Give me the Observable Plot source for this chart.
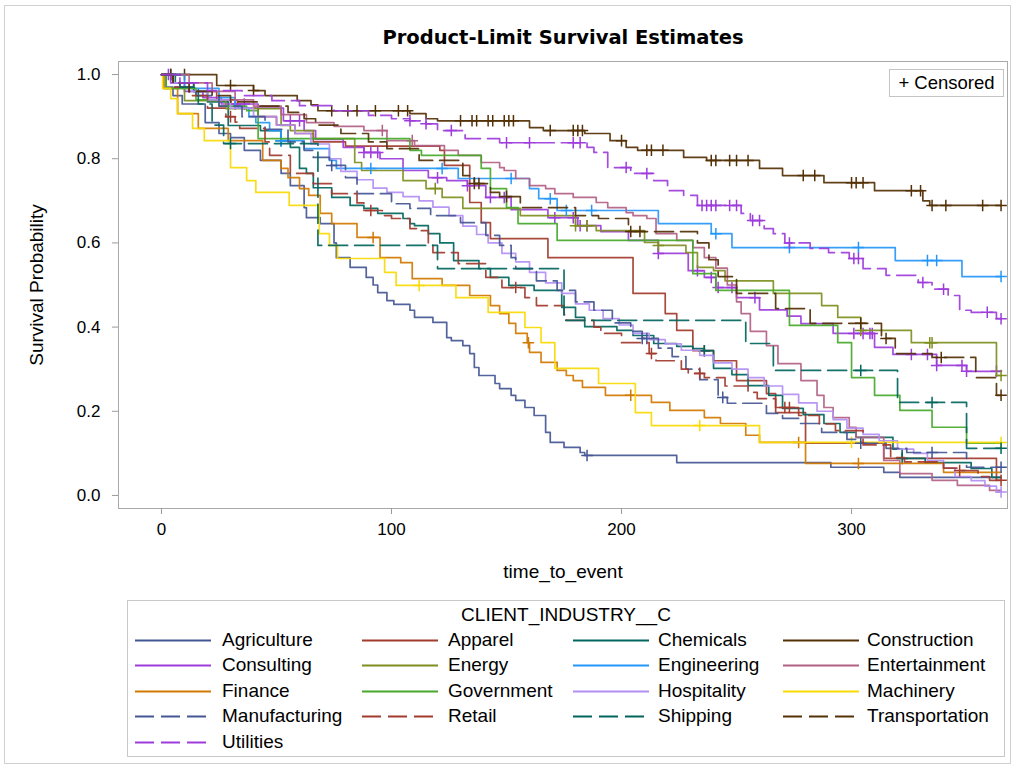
<!DOCTYPE html>
<html>
<head>
<meta charset="utf-8">
<script src="https://cdn.jsdelivr.net/npm/d3@7"></script>
<script src="https://cdn.jsdelivr.net/npm/@observablehq/plot@0.6"></script>
<style>
  body { margin: 0; background: #fff; }
  #wrap { position: relative; width: 1016px; height: 770px; font-family: "Liberation Sans", Arial, sans-serif; color: #000; }
  #outer { position: absolute; left: 4px; top: 5px; width: 1007px; height: 759px; border: 1px solid #d0d0d0; box-sizing: border-box; }
  #chart { position: absolute; left: 0; top: 0; }
  #title { position: absolute; left: 110px; width: 906px; top: 25px; line-height: 26px; text-align: center;
           font-family: "DejaVu Sans", sans-serif; font-weight: bold; font-size: 19.5px; }
  .axlabel { position: absolute; font-size: 19px; white-space: nowrap; line-height: 22px; }
  #xlabel { left: 363px; width: 400px; top: 561px; text-align: center; }
  #ylabel { left: 37px; top: 285px; transform: translate(-50%, -50%) rotate(-90deg); }
  #censored { position: absolute; left: 889px; top: 69px; width: 115px; height: 28px; border: 1px solid #c4c4c4;
              box-sizing: border-box; font-size: 18.5px; line-height: 26px; text-align: center; background: #fff; }
  #legend { position: absolute; left: 127px; top: 600px; width: 878px; height: 157px; border: 1px solid #c8c8c8; box-sizing: border-box; }
  #legtitle { position: absolute; left: 0; width: 876px; top: 3px; text-align: center; font-size: 19px; line-height: 22px; }
  .item { position: absolute; height: 22px; font-size: 19px; line-height: 22px; white-space: nowrap; }
  .item svg { position: absolute; top: 0; }
  .item span { position: absolute; top: 0; }
</style>
</head>
<body>
<div id="wrap">
  <div id="outer"></div>
  <div id="chart"></div>
  <div id="title">Product-Limit Survival Estimates</div>
  <div id="xlabel" class="axlabel">time_to_event</div>
  <div id="ylabel" class="axlabel">Survival Probability</div>
  <div id="censored">+ Censored</div>
  <div id="legend"><div id="legtitle">CLIENT_INDUSTRY__C</div></div>
</div>
<script>
// Kaplan-Meier product-limit estimates by client industry.
// Each step array holds [time, survival] pairs: survival holds from that time until the next step.
const industries = ["Agriculture", "Apparel", "Chemicals", "Construction", "Consulting", "Energy",
  "Engineering", "Entertainment", "Finance", "Government", "Hospitality", "Machinery",
  "Manufacturing", "Retail", "Shipping", "Transportation", "Utilities"];
const palette = ["#445694", "#A23A2E", "#01665E", "#543005", "#9D3CDB", "#7F8E1F",
  "#2597FA", "#B26084", "#D17800", "#47A82A", "#B38EF3", "#F9DA04",
  "#445694", "#A23A2E", "#01665E", "#543005", "#9D3CDB"];
const dashed = [false, false, false, false, false, false, false, false, false, false, false, false,
  true, true, true, true, true];
const followUpEnd = 365;
const xTicks = [0, 100, 200, 300];
const yTicks = [0, 0.2, 0.4, 0.6, 0.8, 1.0];

const agricultureSteps = [[0,1],[2,0.97],[5,0.95],[9,0.93],[19,0.886],[25,0.86],[30,0.85],[36,0.82],[43,0.796],[52,0.765],[56,0.736],[62,0.684],[63,0.66],[69,0.646],[75,0.6],[76,0.565],[82,0.542],[89,0.518],[92,0.5],[94,0.482],[98,0.463],[101,0.454],[108,0.44],[110,0.423],[118,0.411],[124,0.375],[126,0.368],[131,0.356],[134,0.337],[136,0.304],[138,0.285],[145,0.266],[147,0.254],[152,0.238],[154,0.226],[158,0.209],[162,0.19],[167,0.15],[169,0.126],[175,0.114],[182,0.102],[184,0.095],[224,0.078],[291,0.067],[314,0.055],[321,0.043]];
const agricultureCensored = [185];

const apparelSteps = [[0,1],[5,0.98],[14,0.96],[24,0.94],[33,0.92],[42,0.9],[50,0.88],[58,0.86],[66,0.84],[80,0.83],[121,0.82],[123,0.784],[134,0.696],[139,0.648],[143,0.61],[168,0.565],[205,0.48],[219,0.432],[224,0.392],[231,0.344],[240,0.32],[250,0.273],[263,0.242],[267,0.197],[280,0.124],[314,0.088],[363,0.036]];
const apparelCensored = [236];

const chemicalsSteps = [[0,1],[6,0.98],[14,0.96],[20,0.935],[29,0.879],[43,0.867],[52,0.843],[56,0.827],[60,0.777],[63,0.765],[66,0.731],[74,0.708],[82,0.689],[88,0.682],[94,0.67],[105,0.658],[108,0.646],[110,0.641],[116,0.622],[121,0.6],[127,0.558],[138,0.539],[143,0.518],[151,0.499],[162,0.487],[174,0.447],[180,0.423],[184,0.401],[198,0.392],[205,0.38],[214,0.361],[224,0.354],[231,0.349],[236,0.344],[240,0.302],[248,0.287],[255,0.261],[264,0.238],[270,0.207],[279,0.192],[288,0.171],[295,0.15],[302,0.138],[318,0.11],[322,0.088],[332,0.078],[352,0.064],[361,0.043]];
const chemicalsCensored = [4, 52, 236, 322];

const constructionSteps = [[0,1],[24,0.974],[40,0.962],[45,0.95],[59,0.938],[65,0.928],[68,0.914],[108,0.907],[115,0.895],[120,0.89],[160,0.874],[166,0.867],[184,0.86],[195,0.843],[202,0.827],[207,0.82],[227,0.803],[237,0.796],[260,0.777],[270,0.76],[288,0.743],[310,0.724],[331,0.7],[334,0.689]];
const constructionCensored = [4,10,30,40,74,81,85,93,103,107,130,135,137,142,144,149,151,153,169,179,181,183,200,211,213,218,239,241,247,250,255,279,284,300,302,305,326,330,335,341,357,365];

const consultingSteps = [[0,1],[4,0.98],[10,0.96],[18,0.945],[26,0.93],[42,0.92],[53,0.89],[62,0.867],[67,0.846],[79,0.827],[88,0.815],[95,0.8],[105,0.772],[116,0.755],[124,0.748],[133,0.736],[141,0.708],[152,0.679],[168,0.66],[181,0.641],[191,0.627],[203,0.606],[216,0.575],[229,0.534],[236,0.518],[241,0.494],[250,0.47],[260,0.441],[272,0.426],[278,0.408],[292,0.385],[310,0.352],[318,0.335],[337,0.309],[350,0.295]];
const consultingCensored = [3,8,32,36,56,60,88,91,94,120,133,143,149,171,179,182,185,216,233,239,242,248,258,301,305,308,309,326,333,337,348,350,363];

const energySteps = [[0,1],[1,0.967],[10,0.938],[28,0.919],[52,0.879],[56,0.867],[66,0.848],[84,0.791],[87,0.772],[105,0.748],[115,0.729],[122,0.708],[131,0.682],[156,0.665],[180,0.641],[189,0.629],[210,0.601],[216,0.594],[228,0.577],[233,0.542],[240,0.534],[245,0.51],[266,0.48],[287,0.451],[294,0.423],[304,0.392],[326,0.363],[363,0.285]];
const energyCensored = [119, 180, 185, 216, 304, 334, 335, 365];

const engineeringSteps = [[0,1],[10,0.967],[25,0.945],[32,0.92],[38,0.9],[41,0.886],[47,0.867],[52,0.843],[62,0.824],[73,0.796],[76,0.777],[129,0.753],[160,0.729],[164,0.705],[172,0.677],[216,0.646],[239,0.622],[248,0.589],[319,0.558],[348,0.52]];
const engineeringCensored = [52, 91, 122, 152, 169, 176, 187, 241, 273, 303, 333, 337, 365];

const entertainmentSteps = [[0,1],[12,0.98],[22,0.96],[32,0.94],[40,0.925],[52,0.905],[63,0.886],[75,0.877],[88,0.867],[98,0.843],[110,0.831],[123,0.82],[129,0.808],[139,0.791],[147,0.779],[149,0.772],[154,0.753],[160,0.736],[167,0.729],[171,0.717],[179,0.708],[189,0.696],[194,0.684],[202,0.672],[205,0.665],[211,0.658],[215,0.622],[224,0.606],[231,0.589],[236,0.565],[241,0.54],[246,0.5],[250,0.46],[252,0.432],[256,0.39],[263,0.356],[268,0.313],[278,0.273],[285,0.238],[288,0.209],[292,0.185],[299,0.162],[302,0.138],[314,0.083],[321,0.052],[335,0.036],[346,0.024],[360,0.012]];
const entertainmentCensored = [96, 109];

const financeSteps = [[0,1],[1,0.967],[7,0.907],[16,0.872],[29,0.843],[44,0.796],[52,0.777],[55,0.755],[60,0.729],[64,0.713],[69,0.67],[74,0.646],[85,0.613],[95,0.565],[104,0.553],[109,0.515],[122,0.499],[134,0.475],[143,0.451],[147,0.432],[151,0.409],[154,0.385],[159,0.363],[160,0.34],[165,0.316],[172,0.297],[176,0.285],[179,0.273],[183,0.257],[193,0.238],[213,0.221],[221,0.202],[236,0.185],[243,0.171],[254,0.143],[260,0.126],[280,0.076],[340,0.055]];
const financeCensored = [92, 159.5, 204, 277, 303];

const governmentSteps = [[0,1],[2,0.967],[15,0.94],[25,0.925],[37,0.914],[42,0.848],[108,0.82],[113,0.808],[139,0.777],[143,0.729],[150,0.684],[155,0.646],[172,0.606],[231,0.527],[241,0.487],[273,0.404],[294,0.363],[300,0.28],[310,0.238],[321,0.202],[335,0.162],[350,0.124]];
const governmentCensored = [];

const hospitalitySteps = [[0,1],[5,0.98],[12,0.96],[20,0.94],[30,0.92],[40,0.9],[50,0.88],[58,0.86],[65,0.835],[73,0.8],[78,0.77],[85,0.75],[92,0.73],[98,0.72],[105,0.71],[112,0.7],[118,0.685],[125,0.665],[131,0.64],[137,0.62],[142,0.6],[148,0.575],[154,0.555],[160,0.53],[167,0.505],[174,0.48],[180,0.455],[186,0.44],[192,0.42],[199,0.405],[205,0.385],[212,0.37],[219,0.36],[226,0.345],[234,0.333],[240,0.315],[248,0.3],[255,0.28],[262,0.26],[270,0.24],[277,0.22],[285,0.2],[292,0.18],[298,0.16],[305,0.145],[312,0.13],[320,0.11],[327,0.1],[333,0.083],[340,0.065],[345,0.045],[352,0.035],[358,0.022],[363,0.008]];
const hospitalityCensored = [365];

const machinerySteps = [[0,1],[0.5,0.967],[4,0.943],[7,0.907],[13.5,0.872],[18.6,0.843],[30,0.779],[37,0.748],[41,0.72],[55.5,0.689],[68.6,0.622],[73,0.594],[76.5,0.563],[97,0.53],[102,0.499],[128,0.47],[142,0.435],[158,0.399],[165,0.363],[171,0.302],[190,0.266],[206,0.197],[213,0.166],[260,0.126]];
const machineryCensored = [112, 234, 300, 365];

const manufacturingSteps = [[0,1],[5,0.97],[15,0.95],[25,0.925],[35,0.9],[45,0.87],[55,0.84],[62,0.82],[66,0.803],[73,0.784],[80,0.755],[85,0.717],[100,0.693],[108,0.682],[117,0.665],[130,0.648],[141,0.618],[147,0.594],[152,0.565],[154,0.539],[163,0.51],[172,0.487],[180,0.46],[188,0.44],[196,0.41],[204,0.39],[209,0.373],[216,0.35],[222,0.33],[228,0.3],[234,0.275],[242,0.233],[246,0.219],[263,0.195],[270,0.183],[277,0.171],[287,0.15],[298,0.133],[304,0.124],[315,0.112],[324,0.102],[350,0.067]];
const manufacturingCensored = [74, 209, 211, 244, 304, 335, 365];

const retailSteps = [[0,1],[5,0.97],[12,0.95],[20,0.92],[28,0.9],[32,0.887],[34,0.872],[45,0.84],[47,0.808],[56,0.765],[66,0.741],[74,0.717],[85,0.695],[88,0.677],[96,0.665],[100,0.658],[108,0.634],[112,0.629],[116,0.6],[118,0.577],[129,0.551],[141,0.518],[148,0.494],[158,0.47],[163,0.451],[175,0.43],[176,0.416],[188,0.4],[191,0.385],[200,0.363],[212,0.337],[215,0.32],[226,0.3],[229,0.29],[236,0.28],[245,0.26],[255,0.245],[259,0.23],[267,0.209],[277,0.19],[286,0.17],[293,0.154],[305,0.12],[317,0.09],[323,0.08],[340,0.065],[347,0.059],[355,0.045],[360,0.036]];
const retailCensored = [30, 91, 154, 213, 234, 271, 273, 347, 365];

const shippingSteps = [[0,1],[8,0.97],[16,0.93],[22,0.88],[27,0.836],[68,0.594],[120,0.539],[175,0.416],[254,0.361],[266,0.297],[320,0.221],[350,0.112]];
const shippingCensored = [30, 304, 335, 365];

const transportationSteps = [[0,1],[5,0.98],[12,0.96],[22,0.95],[30,0.935],[42,0.925],[55,0.91],[62,0.895],[67,0.88],[78,0.86],[90,0.84],[98,0.824],[112,0.796],[131,0.76],[136,0.741],[143,0.72],[147,0.71],[156,0.684],[180,0.665],[190,0.658],[203,0.627],[233,0.6],[238,0.56],[242,0.52],[250,0.48],[267,0.444],[282,0.409],[313,0.373],[319,0.337],[335,0.328],[354,0.28],[363,0.238]];
const transportationCensored = [136, 138, 150, 204, 208, 304, 315, 339, 365];

const utilitiesSteps = [[0,1],[8,0.98],[20,0.962],[35,0.95],[48,0.938],[60,0.926],[75,0.914],[90,0.903],[100,0.895],[108,0.89],[115,0.883],[120,0.867],[132,0.848],[147,0.838],[185,0.827],[188,0.815],[194,0.779],[204,0.765],[214,0.748],[220,0.724],[227,0.713],[233,0.689],[252,0.67],[256,0.653],[262,0.634],[266,0.622],[271,0.6],[282,0.587],[290,0.577],[299,0.563],[305,0.539],[315,0.523],[329,0.506],[335,0.49],[342,0.475],[347,0.44],[352,0.435],[363,0.42]];
const utilitiesCensored = [108,115,126,150,160,179,182,202,211,235,237,239,241,247,250,257,260,273,301,303,331,340,359,365];

const stepsByIndustry = [agricultureSteps, apparelSteps, chemicalsSteps, constructionSteps, consultingSteps,
  energySteps, engineeringSteps, entertainmentSteps, financeSteps, governmentSteps, hospitalitySteps,
  machinerySteps, manufacturingSteps, retailSteps, shippingSteps, transportationSteps, utilitiesSteps];
const censoredByIndustry = [agricultureCensored, apparelCensored, chemicalsCensored, constructionCensored,
  consultingCensored, energyCensored, engineeringCensored, entertainmentCensored, financeCensored,
  governmentCensored, hospitalityCensored, machineryCensored, manufacturingCensored, retailCensored,
  shippingCensored, transportationCensored, utilitiesCensored];

const DASH = "19,7";

// survival estimate in effect at time t
function survivalAt(steps, t) {
  let s = steps[0][1];
  for (const [ti, si] of steps) { if (ti <= t) s = si; else break; }
  return s;
}

const marks = [Plot.frame({stroke: "#a9a9a9"})];
industries.forEach((name, i) => {
  const steps = stepsByIndustry[i];
  const curve = steps.map(([t, s]) => ({industry: name, t, s}));
  curve.push({industry: name, t: followUpEnd, s: steps[steps.length - 1][1]});
  const cens = censoredByIndustry[i].map(t => ({industry: name, t, s: survivalAt(steps, t)}));
  marks.push(Plot.line(curve, {x: "t", y: "s", curve: "step-after", stroke: palette[i],
    strokeWidth: 1.7, strokeOpacity: 0.92, strokeDasharray: dashed[i] ? DASH : null}));
  marks.push(Plot.dot(cens, {x: "t", y: "s", symbol: "plus", r: 3.8, stroke: palette[i], strokeWidth: 1.5}));
});
marks.push(Plot.axisX({ticks: xTicks, tickSize: 6, tickPadding: 8, stroke: "#9a9a9a", fill: "#000", label: null, fontSize: 17}));
marks.push(Plot.axisY({ticks: yTicks, tickSize: 6, tickPadding: 12, tickFormat: d3.format(".1f"), stroke: "#9a9a9a", fill: "#000", label: null, fontSize: 17}));

const chart = Plot.plot({
  width: 1016,
  height: 595,
  marginLeft: 118,
  marginRight: 9,
  marginTop: 61,
  marginBottom: 87,
  style: {fontFamily: "'Liberation Sans', Arial, sans-serif", fontSize: "17px", background: "transparent", color: "#000"},
  x: {domain: [-18.7, 367.8]},
  y: {domain: [-0.031, 1.031]},
  marks
});
document.getElementById("chart").appendChild(chart);

// legend: four columns, line sample then label
const legend = document.getElementById("legend");
const lineLeft = [7, 234, 445, 655];
const textLeft = [94, 320, 530, 739];
const rowTop = [28, 53, 79, 104, 130];
industries.forEach((name, i) => {
  const col = i % 4, row = Math.floor(i / 4);
  const item = document.createElement("div");
  item.className = "item";
  item.style.left = "0px";
  item.style.top = rowTop[row] + "px";
  item.innerHTML = `<svg width="80" height="22" style="left:${lineLeft[col]}px"><line x1="0" x2="76" y1="11.5" y2="11.5" stroke="${palette[i]}" stroke-width="2" ${dashed[i] ? `stroke-dasharray="${DASH}"` : ""}/></svg><span style="left:${textLeft[col]}px">${name}</span>`;
  legend.appendChild(item);
});
</script>
</body>
</html>
